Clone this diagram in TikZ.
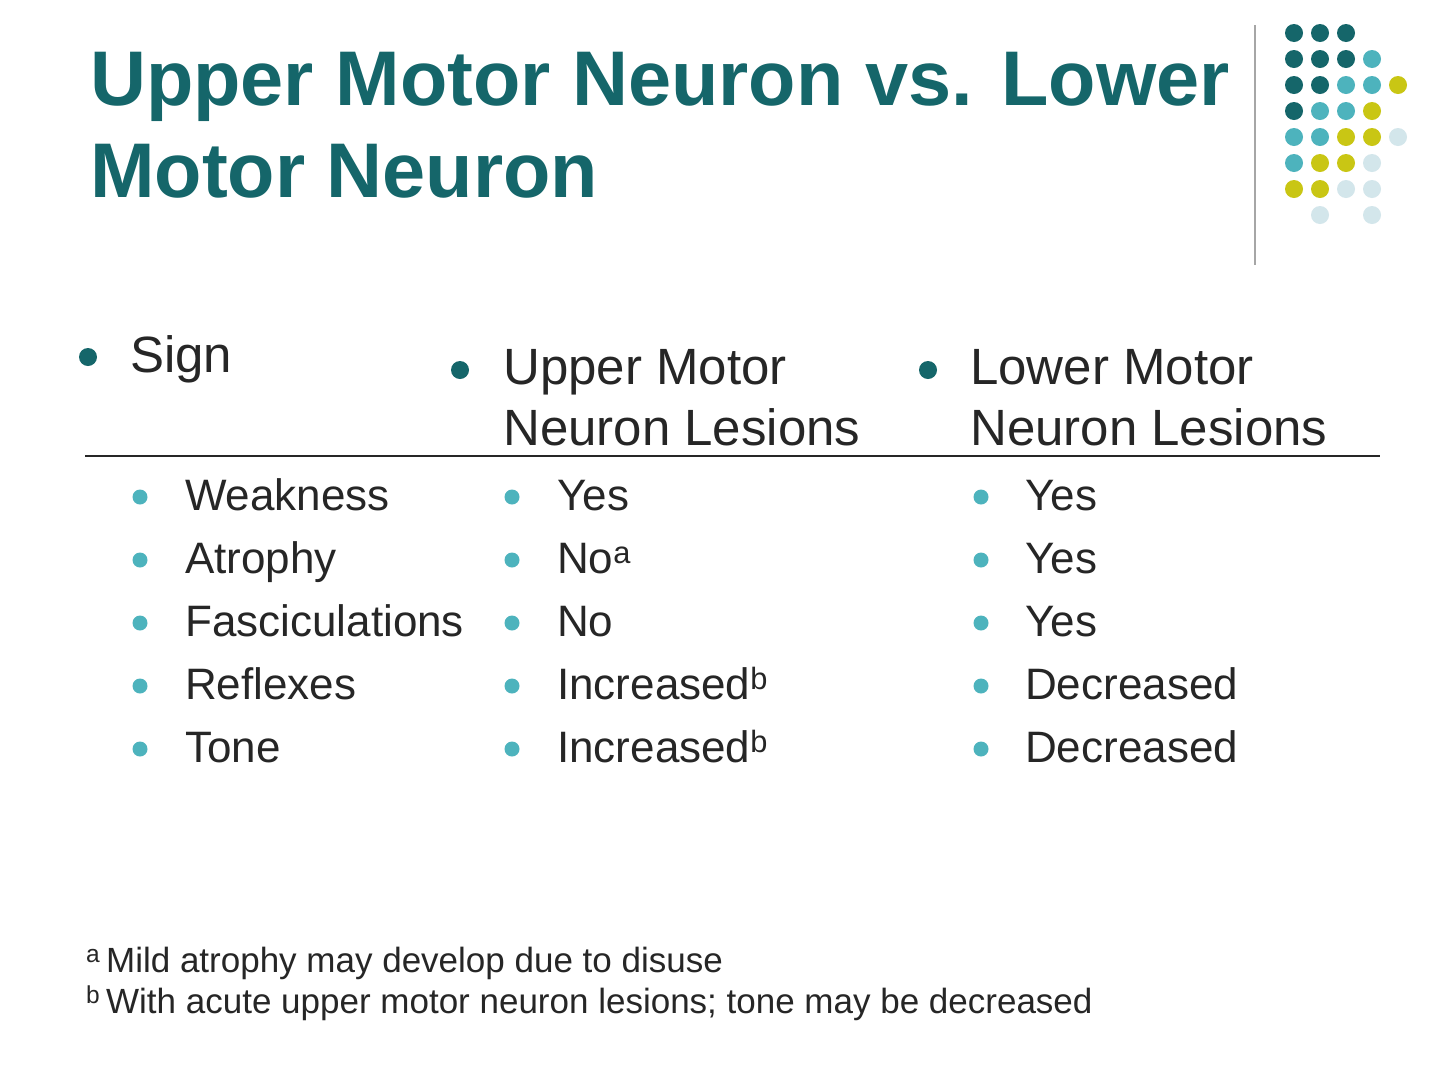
\documentclass[tikz,border=0pt]{standalone}
\usepackage{fontspec}
\setmainfont{Liberation Sans}
\begin{document}
\begin{tikzpicture}[x=1pt,y=-1pt,
 tx/.style={anchor=base west,inner sep=0pt,text=black!85},
 hd/.style={tx,font=\fontsize{51}{60}\selectfont},
 rw/.style={tx,font=\fontsize{44}{50}\selectfont},
 fn/.style={tx,font=\fontsize{35}{40}\selectfont}]
\definecolor{dk}{HTML}{15666A}
\definecolor{tl}{HTML}{4DB3BD}
\definecolor{yl}{HTML}{C9C614}
\definecolor{lb}{HTML}{D3E6EB}
\useasboundingbox[fill=white] (0,0) rectangle (1440,1080);
\node[tx,text=dk,font=\bfseries\fontsize{77.5}{92}\selectfont] (t1) at (90,105) {Upper Motor Neuron vs. Lower};
\node[tx,text=dk,font=\bfseries\fontsize{77.5}{92}\selectfont] (t2) at (90,197) {Motor Neuron};
\draw[gray!70,line width=2.5pt] (1255,25) -- (1255,265);
\foreach \r/\cols in {0/{D,D,D},1/{D,D,D,T},2/{D,D,T,T,Y},3/{D,T,T,Y},4/{T,T,Y,Y,L},5/{T,Y,Y,L},6/{Y,Y,L,L},7/{N,L,N,L}}{
 \foreach \c [count=\i from 0] in \cols {
  \if\c D\fill[dk] (1294+26*\i,33+26*\r) circle (9);\fi
  \if\c T\fill[tl] (1294+26*\i,33+26*\r) circle (9);\fi
  \if\c Y\fill[yl] (1294+26*\i,33+26*\r) circle (9);\fi
  \if\c L\fill[lb] (1294+26*\i,33+26*\r) circle (9);\fi
 }}
\foreach \x/\y in {88/357,460/370,928/370} \fill[dk] (\x,\y) circle (9);
\node[hd] (h1) at (130,372) {Sign};
\node[hd] (h2a) at (503,384) {Upper Motor};
\node[hd] (h2b) at (503,445) {Neuron Lesions};
\node[hd] (h3a) at (970,384) {Lower Motor};
\node[hd] (h3b) at (970,445) {Neuron Lesions};
\draw[black!85,line width=2.5pt] (85,456) -- (1380,456);
\foreach \y [count=\k] in {510,573,636,699,762}{
 \foreach \x in {140,512,981} \fill[tl] (\x,\y-13) circle (7.5);}
\node[rw] (a1) at (185,510) {Weakness};
\node[rw] (a2) at (185,573) {Atrophy};
\node[rw] (a3) at (185,636) {Fasciculations};
\node[rw] (a4) at (185,699) {Reflexes};
\node[rw] (a5) at (185,762) {Tone};
\node[rw] (b1) at (557,510) {Yes};
\node[rw] (b2) at (557,573) {No\textsuperscript{a}};
\node[rw] (b3) at (557,636) {No};
\node[rw] (b4) at (557,699) {Increased\textsuperscript{b}};
\node[rw] (b5) at (557,762) {Increased\textsuperscript{b}};
\node[rw] (c1) at (1025,510) {Yes};
\node[rw] (c2) at (1025,573) {Yes};
\node[rw] (c3) at (1025,636) {Yes};
\node[rw] (c4) at (1025,699) {Decreased};
\node[rw] (c5) at (1025,762) {Decreased};
\node[fn] (f1) at (86,972) {\textsuperscript{a}\,Mild atrophy may develop due to disuse};
\node[fn] (f2) at (86,1013) {\textsuperscript{b}\,With acute upper motor neuron lesions; tone may be decreased};
\end{tikzpicture}
\end{document}
